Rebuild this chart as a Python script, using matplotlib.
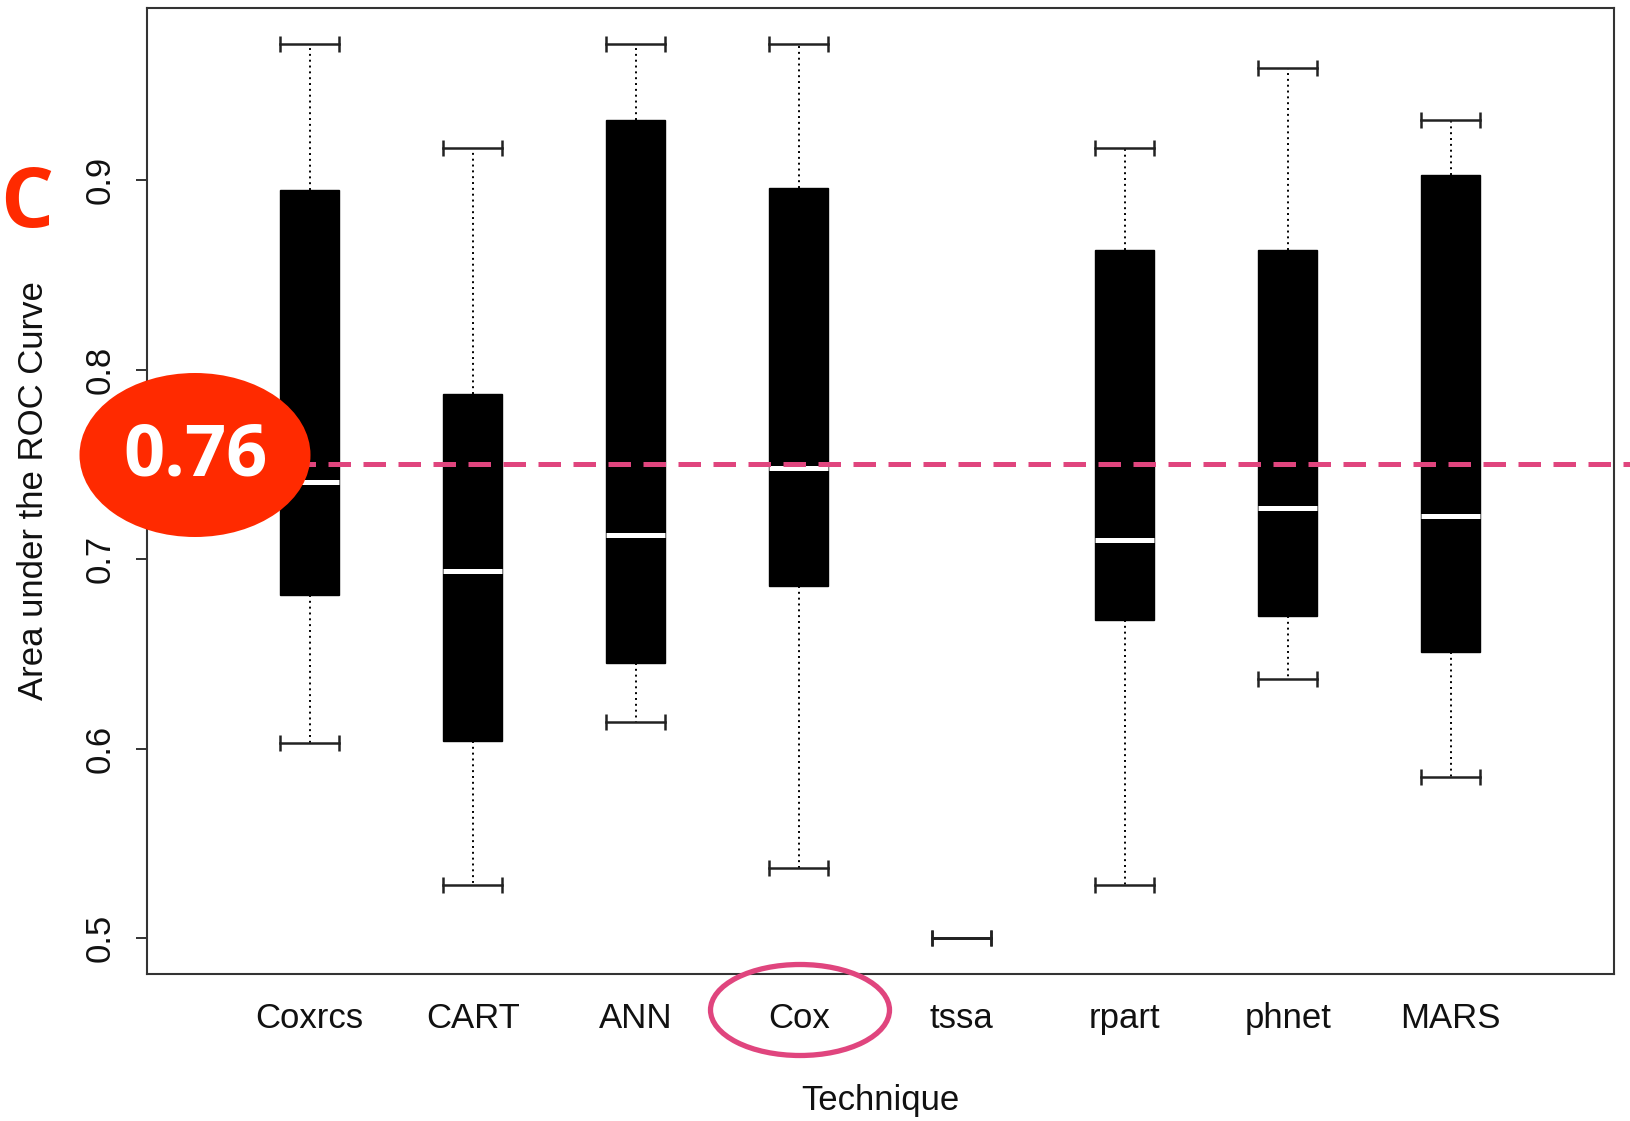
import matplotlib
matplotlib.use('Agg')
import matplotlib.pyplot as plt
from matplotlib.patches import Ellipse

techniques = ['Coxrcs', 'CART', 'ANN', 'Cox', 'tssa', 'rpart', 'phnet', 'MARS']
whisk_lo = [0.603, 0.528, 0.614, 0.537, 0.500, 0.528, 0.637, 0.585]
q1 = [0.681, 0.604, 0.645, 0.686, 0.500, 0.668, 0.670, 0.651]
med = [0.741, 0.694, 0.713, 0.748, 0.500, 0.710, 0.727, 0.723]
q3 = [0.895, 0.787, 0.932, 0.896, 0.500, 0.863, 0.863, 0.903]
whisk_hi = [0.972, 0.917, 0.972, 0.972, 0.500, 0.917, 0.959, 0.932]
ref_line = 0.75
ref_label = '0.76'

plt.rcParams['font.family'] = ['Liberation Sans', 'DejaVu Sans']

fig = plt.figure(figsize=(16.3, 11.21), dpi=100)
ax = fig.add_axes([0.090, 0.131, 0.900, 0.862])

stats = []
for i in range(len(techniques)):
    stats.append({'label': techniques[i], 'whislo': whisk_lo[i], 'q1': q1[i],
                  'med': med[i], 'q3': q3[i], 'whishi': whisk_hi[i], 'fliers': []})

res = ax.bxp(stats, positions=range(1, len(techniques) + 1), widths=0.36,
             patch_artist=True, showfliers=False,
             boxprops=dict(facecolor='black', edgecolor='black', linewidth=1),
             medianprops=dict(color='white', linewidth=3.6),
             whiskerprops=dict(color='black', linewidth=1.4, linestyle=(0, (1, 2))),
             capprops=dict(color='#222222', linewidth=1.8, marker='|', markersize=11,
                           markeredgewidth=1.8),
             capwidths=0.36)
# tssa has no spread: only its cap line shows
res['medians'][4].set_color('#222222')
res['medians'][4].set_linewidth(1.8)

ax.set_xlim(0, 9)
ax.set_ylim(0.481, 0.991)
ax.set_yticks([0.5, 0.6, 0.7, 0.8, 0.9])
ax.set_yticklabels(['0.5', '0.6', '0.7', '0.8', '0.9'], rotation=90, va='center')
ax.tick_params(axis='y', length=8, width=1.2, pad=14, labelsize=25, colors='#111111')
ax.tick_params(axis='x', length=0, pad=20, labelsize=25, colors='#111111')
for s in ax.spines.values():
    s.set_linewidth(1.5)
    s.set_color('#333333')

ax.set_ylabel('Area under the ROC Curve', fontsize=25, color='#111111')
ax.yaxis.set_label_coords(-0.066, 0.5)
ax.set_xlabel('Technique', fontsize=25, color='#111111')
ax.xaxis.set_label_coords(0.5, -0.114)

# dashed reference line, running past the right edge of the axes
ax.axhline(ref_line, xmin=0.10, xmax=1.02, color='#E0457E', linewidth=3.6,
           dashes=(4.5, 2.5), clip_on=False, zorder=5)

# annotations
fig.text(27 / 1630, 1 - 206 / 1121, 'C', color='#FF2A00', fontsize=60,
         fontweight='bold', family='Open Sans', ha='center', va='center')
fig.add_artist(Ellipse((195 / 1630, 1 - 455 / 1121), 231 / 1630, 164 / 1121,
                       transform=fig.transFigure, facecolor='#FF2A00',
                       edgecolor='none', zorder=10))
fig.text(196 / 1630, 1 - 457 / 1121, ref_label, color='white', fontsize=52,
         fontweight='bold', family='Open Sans', ha='center', va='center', zorder=11)
fig.add_artist(Ellipse((800 / 1630, 1 - 1010 / 1121), 179 / 1630, 91 / 1121,
                       transform=fig.transFigure, facecolor='none',
                       edgecolor='#E0457E', linewidth=3.8, zorder=10))

fig.savefig('out.png', dpi=100)
